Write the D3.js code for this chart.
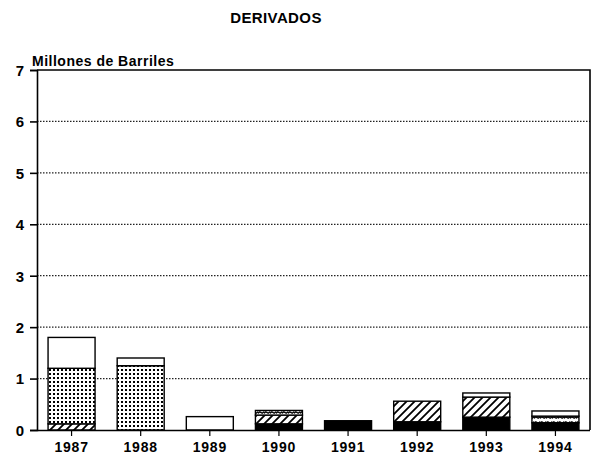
<!DOCTYPE html>
<html>
<head>
<meta charset="utf-8">
<script src="https://cdn.jsdelivr.net/npm/d3@7"></script>
<style>
  html, body { margin: 0; padding: 0; background: #fff; }
  svg text { font-family: "Liberation Sans", Arial, Helvetica, sans-serif; font-weight: bold; fill: #000; }
</style>
</head>
<body>
<svg id="chart" width="593" height="468"></svg>
<script>
// Years on the x axis
const years = ["1987", "1988", "1989", "1990", "1991", "1992", "1993", "1994"];
// Stacked components (bottom to top), millions of barrels
const solidBlack = [0, 0, 0, 0.12, 0.18, 0.16, 0.25, 0.14];
const diagonal   = [0.12, 0, 0, 0.17, 0, 0.40, 0.39, 0];
const dotted     = [1.08, 1.25, 0, 0, 0, 0, 0, 0];
const wavy       = [0, 0, 0, 0.09, 0, 0, 0, 0.13];
const blank      = [0.60, 0.15, 0.26, 0, 0, 0, 0.08, 0.10];
// Y axis ticks
const yTicks = [0, 1, 2, 3, 4, 5, 6, 7];

const keys = ["solidBlack", "diagonal", "dotted", "wavy", "blank"];
const series = { solidBlack, diagonal, dotted, wavy, blank };
const rows = years.map((yr, i) => {
  const r = { year: yr };
  keys.forEach(k => r[k] = series[k][i]);
  return r;
});

const svg = d3.select("#chart");
const plotLeft = 37, plotRight = 590, plotTop = 70, plotBottom = 430;

const x = d3.scaleBand().domain(years).range([plotLeft, plotRight]).paddingInner(0.32).paddingOuter(0.16);
const y = d3.scaleLinear().domain([0, 7]).range([plotBottom, plotTop]);

// Fill patterns
const defs = svg.append("defs");
const pDots = defs.append("pattern").attr("id", "p-dots").attr("patternUnits", "userSpaceOnUse")
  .attr("width", 4).attr("height", 4);
pDots.append("rect").attr("width", 4).attr("height", 4).attr("fill", "#fff");
pDots.append("rect").attr("x", 1).attr("y", 1).attr("width", 2).attr("height", 2).attr("fill", "#000");

const pDiag = defs.append("pattern").attr("id", "p-diag").attr("patternUnits", "userSpaceOnUse")
  .attr("width", 8).attr("height", 8);
pDiag.append("rect").attr("width", 8).attr("height", 8).attr("fill", "#fff");
pDiag.append("path").attr("d", "M-2,2 L2,-2 M0,8 L8,0 M6,10 L10,6")
  .attr("stroke", "#000").attr("stroke-width", 1.8);

const pWavy = defs.append("pattern").attr("id", "p-wavy").attr("patternUnits", "userSpaceOnUse")
  .attr("width", 6).attr("height", 5);
pWavy.append("rect").attr("width", 6).attr("height", 5).attr("fill", "#fff");
pWavy.append("path").attr("d", "M0,3.5 Q1.5,1 3,2.5 T6,1.5").attr("fill", "none")
  .attr("stroke", "#000").attr("stroke-width", 1.4);

const fills = {
  solidBlack: "#000",
  diagonal: "url(#p-diag)",
  dotted: "url(#p-dots)",
  wavy: "url(#p-wavy)",
  blank: "#fff"
};

// Title and unit label
svg.append("text").attr("x", 276).attr("y", 23).attr("text-anchor", "middle")
  .style("font-size", "15px").style("letter-spacing", "0.4px").text("DERIVADOS");
svg.append("text").attr("x", 32).attr("y", 66)
  .style("font-size", "14px").style("letter-spacing", "0.5px").text("Millones de Barriles");

// Dotted grid lines
svg.append("g").selectAll("line").data(yTicks.filter(t => t > 0 && t < 7)).join("line")
  .attr("x1", plotLeft).attr("x2", plotRight).attr("y1", d => y(d)).attr("y2", d => y(d))
  .attr("stroke", "#222").attr("stroke-width", 1.2).attr("stroke-dasharray", "1.5,1.5");

// Frame: top and right edges
svg.append("path").attr("d", `M${plotLeft},${plotTop} H${plotRight} V${plotBottom}`)
  .attr("fill", "none").attr("stroke", "#000").attr("stroke-width", 1.6);

// Stacked bars
const stacked = d3.stack().keys(keys)(rows);
svg.append("g").selectAll("g").data(stacked).join("g")
  .attr("fill", d => fills[d.key])
  .selectAll("rect").data(d => d.filter(s => s[1] - s[0] > 0)).join("rect")
  .attr("x", d => x(d.data.year))
  .attr("width", x.bandwidth())
  .attr("y", d => y(d[1]))
  .attr("height", d => y(d[0]) - y(d[1]))
  .attr("stroke", "#000").attr("stroke-width", 1.4);

// Y axis
const yAxis = svg.append("g").attr("transform", `translate(${plotLeft},0)`)
  .call(d3.axisLeft(y).tickValues(yTicks).tickFormat(d3.format("d")).tickSize(7).tickPadding(6));
yAxis.select(".domain").attr("stroke", "#000").attr("stroke-width", 1.6);
yAxis.selectAll(".tick line").attr("stroke", "#000").attr("stroke-width", 1.6);
yAxis.selectAll("text").style("font-size", "15px").attr("dy", "0.36em");

// X axis
const xAxis = svg.append("g").attr("transform", `translate(0,${plotBottom})`)
  .call(d3.axisBottom(x).tickSize(6).tickPadding(6).tickSizeOuter(0));
xAxis.select(".domain").attr("stroke", "#000").attr("stroke-width", 1.6)
  .attr("d", `M${plotLeft},0.5H${plotRight}`);
xAxis.selectAll(".tick line").attr("stroke", "#000").attr("stroke-width", 1.2);
xAxis.selectAll("text").style("font-size", "14px").style("letter-spacing", "0.8px");
</script>
</body>
</html>
